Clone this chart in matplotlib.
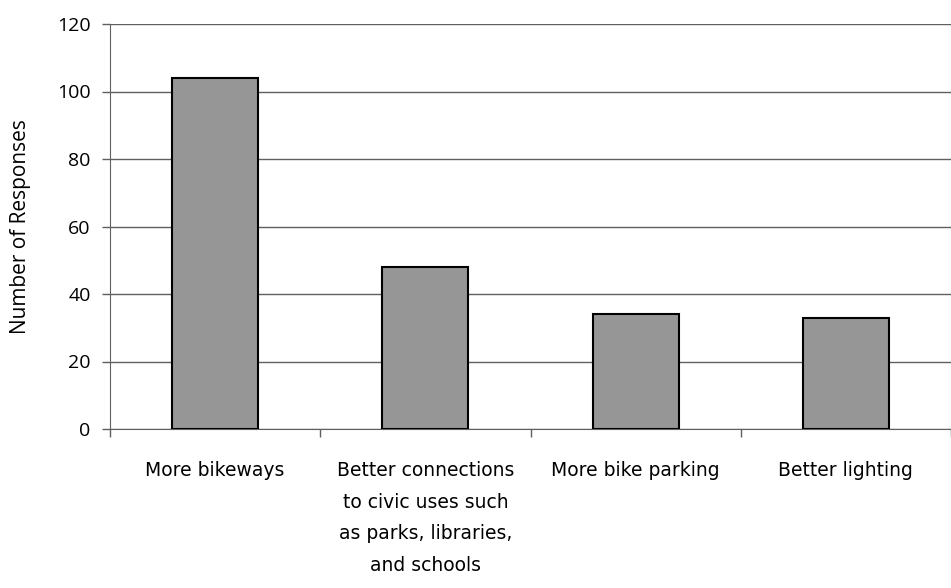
import matplotlib
matplotlib.use("Agg")
import matplotlib.pyplot as plt
from matplotlib.ticker import FixedLocator, NullFormatter

# survey responses
categories = [
    "More bikeways",
    "Better connections\nto civic uses such\nas parks, libraries,\nand schools",
    "More bike parking",
    "Better lighting",
]
responses = [104, 48, 34, 33]
yticks = [0, 20, 40, 60, 80, 100, 120]

plt.rcParams["font.family"] = "DejaVu Sans"

fig = plt.figure(figsize=(9.51, 5.88), dpi=100)
ax = fig.add_axes([110 / 951, 159 / 588, 1 - 110 / 951, 405 / 588])

x = list(range(len(categories)))
ax.bar(x, responses, width=0.41, color="#969696", edgecolor="black",
       linewidth=1.5, zorder=3)

ax.set_xlim(-0.5, len(categories) - 0.5)
ax.set_ylim(0, 120)
ax.set_yticks(yticks)
ax.set_yticklabels([str(v) for v in yticks], family="Open Sans", fontsize=14)
ax.yaxis.grid(True, color="#606060", linewidth=1.0, zorder=0)

# separator ticks between categories, labels centred under bars
ax.xaxis.set_major_locator(FixedLocator([i - 0.5 for i in range(len(categories) + 1)]))
ax.xaxis.set_major_formatter(NullFormatter())
ax.set_xticks(x, minor=True)
ax.set_xticklabels(categories, minor=True, fontsize=13.5, linespacing=1.84,
                   va="top", ha="center")
ax.tick_params(axis="x", which="major", length=6, width=1, color="#606060",
               direction="out")
ax.tick_params(axis="x", which="minor", length=0, pad=23)
ax.tick_params(axis="y", length=6, width=1, color="#606060", pad=8)

for s in ["top", "right"]:
    ax.spines[s].set_visible(False)
ax.spines["left"].set_color("#606060")
ax.spines["bottom"].set_color("#606060")

ax.set_ylabel("Number of Responses", family="Open Sans", fontsize=15,
              labelpad=19)

fig.savefig("out.png", dpi=100)
